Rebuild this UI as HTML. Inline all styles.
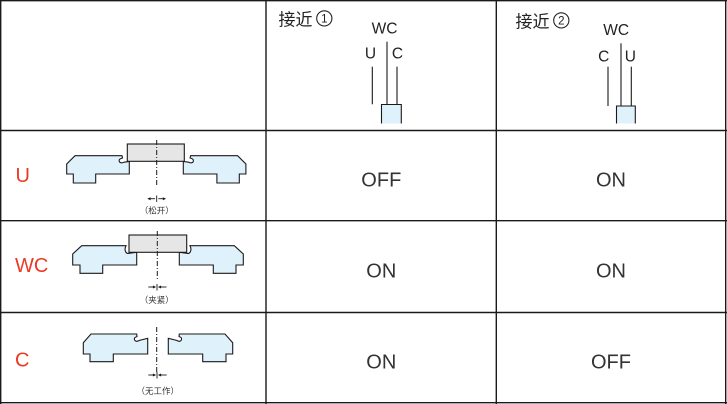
<!DOCTYPE html>
<html>
<head>
<meta charset="utf-8">
<style>
html,body{margin:0;padding:0;background:#fff;}
body{width:727px;height:404px;overflow:hidden;}
svg{display:block;}
.t{font-family:"Liberation Sans","Noto Sans CJK SC",sans-serif;}
.cjk{font-family:"Noto Sans CJK SC","Liberation Sans",sans-serif;}
</style>
</head>
<body>
<svg width="727" height="404" viewBox="0 0 727 404" xmlns="http://www.w3.org/2000/svg">
  <rect x="0" y="0" width="727" height="404" fill="#fff"/>

  <!-- grid -->
  <g stroke="#1a1a1a" stroke-width="1.4" fill="none">
    <line x1="0.7" y1="0" x2="0.7" y2="404"/>
    <line x1="266" y1="0" x2="266" y2="404"/>
    <line x1="496.3" y1="0" x2="496.3" y2="404"/>
    <line x1="725.7" y1="0" x2="725.7" y2="404"/>
    <line x1="0" y1="0.7" x2="727" y2="0.7"/>
    <line x1="0" y1="130.5" x2="727" y2="130.5"/>
    <line x1="0" y1="220.7" x2="727" y2="220.7"/>
    <line x1="0" y1="312.5" x2="727" y2="312.5"/>
    <line x1="0" y1="402.7" x2="727" y2="402.7"/>
  </g>

  <!-- header 1 -->
  <text class="cjk" x="278.5" y="25.5" font-size="17" fill="#222">接近</text>
  <circle cx="324.3" cy="18.4" r="7.6" fill="none" stroke="#222" stroke-width="1.1"/>
  <text class="t" x="324.3" y="22.6" font-size="11.5" fill="#222" text-anchor="middle">1</text>
  <text class="t" x="384.5" y="33.3" font-size="15.5" fill="#222" text-anchor="middle">WC</text>
  <text class="t" x="370.5" y="58.3" font-size="15.5" fill="#222" text-anchor="middle">U</text>
  <text class="t" x="397.5" y="58.3" font-size="15.5" fill="#222" text-anchor="middle">C</text>
  <g stroke="#1a1a1a" stroke-width="1.1">
    <line x1="372.3" y1="66.7" x2="372.3" y2="104.3"/>
    <line x1="387" y1="41.7" x2="387" y2="104.3"/>
    <line x1="397" y1="66.7" x2="397" y2="104.3"/>
  </g>
  <path d="M381.5,123.5 L381.5,104.5 L401.3,104.5 L401.3,123.5" fill="#dff1fb" stroke="#1a1a1a" stroke-width="1.1"/>

  <!-- header 2 -->
  <text class="cjk" x="515.5" y="27.5" font-size="17" fill="#222">接近</text>
  <circle cx="561.3" cy="20.4" r="7.6" fill="none" stroke="#222" stroke-width="1.1"/>
  <text class="t" x="561.3" y="24.6" font-size="11.5" fill="#222" text-anchor="middle">2</text>
  <text class="t" x="616.2" y="35" font-size="15.5" fill="#222" text-anchor="middle">WC</text>
  <text class="t" x="603.7" y="61.7" font-size="15.5" fill="#222" text-anchor="middle">C</text>
  <text class="t" x="630.3" y="61.7" font-size="15.5" fill="#222" text-anchor="middle">U</text>
  <g stroke="#1a1a1a" stroke-width="1.1">
    <line x1="608" y1="66.7" x2="608" y2="106"/>
    <line x1="621" y1="43.3" x2="621" y2="106"/>
    <line x1="631.3" y1="66.7" x2="631.3" y2="106"/>
  </g>
  <path d="M616.5,123.5 L616.5,106 L635.3,106 L635.3,123.5" fill="#dff1fb" stroke="#1a1a1a" stroke-width="1.1"/>

  <!-- row labels -->
  <text class="t" x="15.5" y="182" font-size="20" fill="#ea3a24">U</text>
  <text class="t" x="15" y="272" font-size="20" fill="#ea3a24">WC</text>
  <text class="t" x="15" y="366.5" font-size="20" fill="#ea3a24">C</text>

  <!-- ON/OFF -->
  <g class="t" font-size="20" fill="#333" text-anchor="middle">
    <text x="381.3" y="186.7">OFF</text>
    <text x="611" y="186.7">ON</text>
    <text x="381.3" y="277.5">ON</text>
    <text x="611" y="277.5">ON</text>
    <text x="381.3" y="368.5">ON</text>
    <text x="611" y="368.5">OFF</text>
  </g>

  <!-- ROW U -->
  <g stroke="#1a1a1a" stroke-width="1.1" fill="#dff1fb" stroke-linejoin="miter">
    <path d="M75,155.7 L122,155.7 L122.5,158 Q118.5,158.8 119.3,161.5 Q120.5,163.8 124,162.2 L129.3,161.5 L129.3,174 L95.7,174 L95.7,183 L73.3,183 L73.3,174 L66.7,174 L66.7,164 Z"/>
    <path d="M75,155.7 L122,155.7 L122.5,158 Q118.5,158.8 119.3,161.5 Q120.5,163.8 124,162.2 L129.3,161.5 L129.3,174 L95.7,174 L95.7,183 L73.3,183 L73.3,174 L66.7,174 L66.7,164 Z" transform="translate(312.6,0) scale(-1,1)"/>
  </g>
  <rect x="127.3" y="144" width="57" height="17.3" fill="#e6e6e6" stroke="#1a1a1a" stroke-width="1.1"/>
  <line x1="156.7" y1="140" x2="156.7" y2="187" stroke="#1a1a1a" stroke-width="1" stroke-dasharray="5,2,1,2"/>
  <g stroke="#1a1a1a" stroke-width="0.9" fill="#1a1a1a">
    <line x1="156.7" y1="195.5" x2="156.7" y2="202"/>
    <line x1="149.5" y1="198.7" x2="155" y2="198.7"/>
    <line x1="158.4" y1="198.7" x2="164" y2="198.7"/>
    <path d="M147.3,198.7 L150.6,197.2 L150.6,200.2 Z" stroke="none"/>
    <path d="M166.1,198.7 L162.8,197.2 L162.8,200.2 Z" stroke="none"/>
  </g>
  <text class="t" x="156.7" y="213.7" font-size="8.5" fill="#333" text-anchor="middle">（松开）</text>

  <!-- ROW WC -->
  <g stroke="#1a1a1a" stroke-width="1.1" fill="#dff1fb">
    <path d="M81.7,245.7 L126,245.7 Q124.3,249 125.6,251.6 Q126.8,254.2 129.6,253.2 L136.7,252.3 L136.7,265 L102.7,265 L102.7,273.3 L80,273.3 L80,265 L72.7,265 L72.7,254 Z"/>
    <path d="M81.7,245.7 L126,245.7 Q124.3,249 125.6,251.6 Q126.8,254.2 129.6,253.2 L136.7,252.3 L136.7,265 L102.7,265 L102.7,273.3 L80,273.3 L80,265 L72.7,265 L72.7,254 Z" transform="translate(316,0) scale(-1,1)"/>
  </g>
  <rect x="129" y="235" width="57.7" height="17.3" fill="#e6e6e6" stroke="#1a1a1a" stroke-width="1.1"/>
  <line x1="157.3" y1="231" x2="157.3" y2="279" stroke="#1a1a1a" stroke-width="1" stroke-dasharray="5,2,1,2"/>
  <g stroke="#1a1a1a" stroke-width="0.9" fill="#1a1a1a">
    <line x1="157" y1="284" x2="157" y2="290.5"/>
    <line x1="148.3" y1="287" x2="153.5" y2="287"/>
    <line x1="160.5" y1="287" x2="166.5" y2="287"/>
    <path d="M156.2,287 L152.9,285.5 L152.9,288.5 Z" stroke="none"/>
    <path d="M157.8,287 L161.1,285.5 L161.1,288.5 Z" stroke="none"/>
  </g>
  <text class="t" x="156.7" y="302.8" font-size="8.5" fill="#333" text-anchor="middle">（夹紧）</text>

  <!-- ROW C -->
  <g stroke="#1a1a1a" stroke-width="1.1" fill="#dff1fb">
    <path d="M91,334 L136.7,334 L137,336.6 Q133.6,337.4 134.6,340 Q136,342.4 139.4,340.4 L147.7,338.3 L147.7,354 L113.3,354 L113.3,361.7 L90,361.7 L90,354 L83.3,354 L83.3,342.7 Z"/>
    <path d="M91,334 L136.7,334 L137,336.6 Q133.6,337.4 134.6,340 Q136,342.4 139.4,340.4 L147.7,338.3 L147.7,354 L113.3,354 L113.3,361.7 L90,361.7 L90,354 L83.3,354 L83.3,342.7 Z" transform="translate(316,0) scale(-1,1)"/>
  </g>
  <line x1="156.7" y1="327" x2="156.7" y2="373" stroke="#1a1a1a" stroke-width="1" stroke-dasharray="5,2,1,2"/>
  <g stroke="#1a1a1a" stroke-width="0.9" fill="#1a1a1a">
    <line x1="157" y1="372" x2="157" y2="378.5"/>
    <line x1="148.3" y1="375" x2="153.5" y2="375"/>
    <line x1="160.5" y1="375" x2="166.7" y2="375"/>
    <path d="M156.2,375 L152.9,373.5 L152.9,376.5 Z" stroke="none"/>
    <path d="M157.8,375 L161.1,373.5 L161.1,376.5 Z" stroke="none"/>
  </g>
  <text class="t" x="157.7" y="394" font-size="8.5" fill="#333" text-anchor="middle">（无工作）</text>
</svg>
</body>
</html>
